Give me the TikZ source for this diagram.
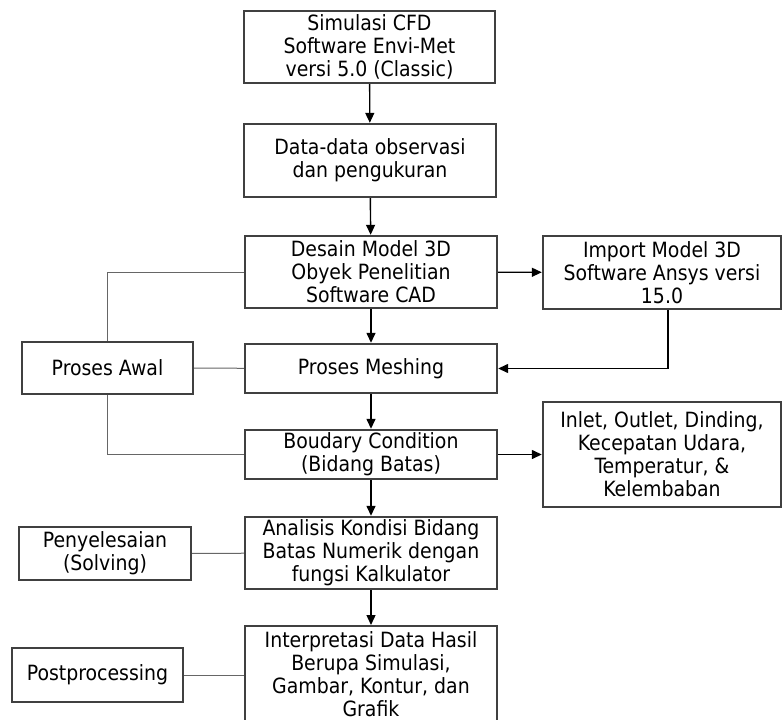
\documentclass[tikz,border=0pt]{standalone}
\usepackage{fontspec}
\setmainfont{DejaVu Sans Condensed}
\usetikzlibrary{arrows.meta}
\tikzstyle{step box} = [rectangle, draw=black!75, line width=2.4pt, align=center, inner sep=0pt, font=\fontsize{21}{23}\selectfont]
\tikzstyle{side box} = [step box, minimum height=52pt]
\tikzstyle{flow} = [line width=1.4pt, black, -{Triangle[length=10pt,width=9pt]}]
\tikzstyle{link} = [line width=1pt, black!60]

\begin{document}
\begin{tikzpicture}[x=1pt, y=-1pt]
				\useasboundingbox (0,0) rectangle (782,720);
				% main column
				\node [step box, minimum width=251pt, minimum height=72pt] (cfd) at (369.5,47) {Simulasi CFD\\Software Envi-Met\\versi 5.0 (Classic)};
				\node [step box, minimum width=252pt, minimum height=73pt] (data) at (370,160.5) {Data-data observasi\\dan pengukuran};
				\node [step box, minimum width=252pt, minimum height=72pt] (desain) at (371,272) {Desain Model 3D\\Obyek Penelitian\\Software CAD};
				\node [step box, minimum width=252pt, minimum height=49pt] (mesh) at (371,368.5) {Proses Meshing};
				\node [step box, minimum width=252pt, minimum height=49pt] (batas) at (371,454.5) {Boudary Condition\\(Bidang Batas)};
				\node [step box, minimum width=252pt, minimum height=72pt] (analisis) at (371,553) {Analisis Kondisi Bidang\\Batas Numerik dengan\\fungsi Kalkulator};
				\node [step box, minimum width=252pt, minimum height=95pt, anchor=north] (hasil) at (371,625) {Interpretasi Data Hasil\\Berupa Simulasi,\\Gambar, Kontur, dan\\Grafik};
				% right column
				\node [step box, minimum width=238pt, minimum height=73pt] (ansys) at (662,272.5) {Import Model 3D\\Software Ansys versi\\15.0};
				\node [step box, minimum width=238pt, minimum height=105pt] (inlet) at (662,454.5) {Inlet, Outlet, Dinding,\\Kecepatan Udara,\\Temperatur, \&\\Kelembaban};
				% left column
				\node [side box, minimum width=171pt] (awal) at (107.5,368) {Proses Awal};
				\node [side box, minimum width=172pt, minimum height=53pt] (solving) at (105,553.5) {Penyelesaian\\(Solving)};
				\node [side box, minimum width=171pt, minimum height=54pt] (post) at (97.5,675) {Postprocessing};

				\draw [flow] (cfd) -- (data);
				\draw [flow] (data) -- (desain);
				\draw [flow] (desain) -- (mesh);
				\draw [flow] (mesh) -- (batas);
				\draw [flow] (batas) -- (analisis);
				\draw [flow] (analisis) -- (hasil);
				\draw [flow] (desain) -- (ansys);
				\draw [flow] ([xshift=6pt]ansys.south) |- (mesh.east);
				\draw [flow] (batas) -- (inlet);

				\draw [link] (awal.north) |- (desain.west);
				\draw [link] (awal) -- (mesh);
				\draw [link] (awal.south) |- (batas.west);
				\draw [link] (solving) -- (analisis);
				\draw [link] (post) -- (hasil.west |- post.east);
			\end{tikzpicture}
\end{document}
